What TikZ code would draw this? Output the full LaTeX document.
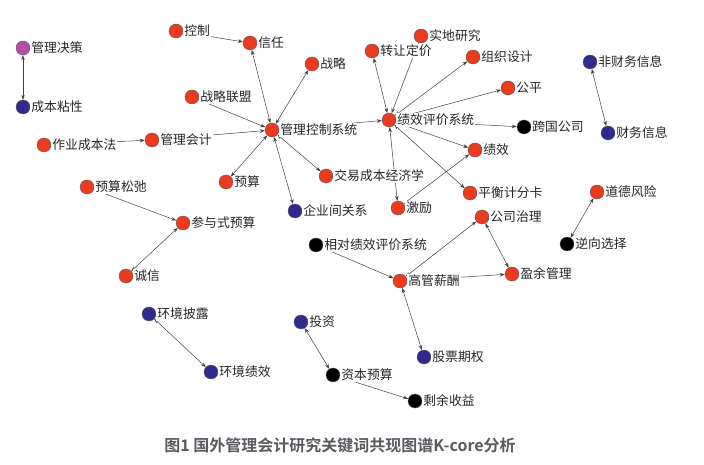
\documentclass[tikz,border=0pt]{standalone}
\usepackage{fontspec}
\newfontfamily\cjk{Noto Sans CJK SC}
\newfontfamily\cjkb{Noto Sans CJK SC Bold}
\usetikzlibrary{arrows.meta}
\pgfdeclarelayer{bg}
\pgfsetlayers{bg,main}
\definecolor{nred}{RGB}{236,58,30}
\definecolor{nblue}{RGB}{48,42,142}
\definecolor{npurple}{RGB}{184,76,168}
\definecolor{capgray}{RGB}{88,90,96}
\tikzset{
  kw/.style={circle, draw=black!65, line width=0.4pt, minimum size=14pt, inner sep=0pt,
    label={[lab]right:#1}},
  rn/.style={kw=#1, fill=nred},
  bn/.style={kw=#1, fill=nblue},
  pn/.style={kw=#1, fill=npurple},
  kn/.style={kw=#1, fill=black},
  lab/.style={font=\cjk\fontsize{12.8}{12.8}\selectfont, fill=white, inner sep=1pt, text=black!85},
  label distance=0pt,
  lk/.style={draw=black!75, line width=0.5pt},
  bi/.style={lk, {Stealth[length=5pt,width=3.6pt]}-{Stealth[length=5pt,width=3.6pt]}},
  un/.style={lk, -{Stealth[length=5pt,width=3.6pt]}},
}
\begin{document}
\begin{tikzpicture}[x=1pt,y=-1pt]
\useasboundingbox (0,0) rectangle (704,465);
% nodes
\node[pn=管理决策] (pd) at (23,48) {};
\node[bn=成本粘性] (cb) at (23,107) {};
\node[rn=控制] (kz) at (176,31) {};
\node[rn=信任] (xr) at (250,43) {};
\node[rn=战略] (zl) at (312,64) {};
\node[rn=战略联盟] (zllm) at (192,97) {};
\node[rn=管理控制系统] (mcs) at (272,130) {};
\node[rn=作业成本法] (zy) at (44,145) {};
\node[rn=管理会计] (gk) at (152,140) {};
\node[rn=预算] (ys) at (226,182) {};
\node[rn=交易成本经济学] (jy) at (326,176) {};
\node[bn=企业间关系] (qy) at (295,211) {};
\node[rn=预算松弛] (yssc) at (87,187) {};
\node[rn=参与式预算] (cy) at (183,223) {};
\node[rn=诚信] (cx) at (126,276) {};
\node[rn=实地研究] (sdyj) at (421,36) {};
\node[rn=转让定价] (zrdj) at (372,51) {};
\node[rn=组织设计] (zzsj) at (473,57) {};
\node[rn=公平] (gp) at (508,88) {};
\node[rn=绩效评价系统] (pes) at (389,120) {};
\node[kn=跨国公司] (kggs) at (524,127) {};
\node[rn=绩效] (jx) at (475,150) {};
\node[rn=平衡计分卡] (phjf) at (470,193) {};
\node[rn=激励] (jl) at (398,208) {};
\node[rn=公司治理] (gszl) at (482,217) {};
\node[bn=非财务信息] (fcw) at (590,62) {};
\node[bn=财务信息] (cw) at (608,133) {};
\node[rn=道德风险] (ddfx) at (597,192) {};
\node[kn=逆向选择] (nxxz) at (567,244) {};
\node[kn=相对绩效评价系统] (xdjx) at (316,245) {};
\node[rn=高管薪酬] (ggxc) at (400,281) {};
\node[rn=盈余管理] (yygl) at (512,274) {};
\node[bn=股票期权] (gpqq) at (424,357) {};
\node[bn=环境披露] (hjpl) at (149,314) {};
\node[bn=环境绩效] (hjjx) at (211,372) {};
\node[bn=投资] (tz) at (301,322) {};
\node[kn=资本预算] (zbys) at (333,375) {};
\node[kn=剩余收益] (syys) at (415,401) {};
\node[font=\cjkb\fontsize{16}{16}\selectfont, text=capgray] (cap) at (340,445) {图1 国外管理会计研究关键词共现图谱K-core分析};
% edges
\begin{pgfonlayer}{bg}
\draw[bi] (pd) -- (cb);
\draw[un] (kz) -- (xr);
\draw[bi] (xr) -- (mcs);
\draw[bi] (zl) -- (mcs);
\draw[bi] (zllm) -- (mcs);
\draw[un] (zy) -- (gk);
\draw[un] (gk) -- (mcs);
\draw[bi] (ys) -- (mcs);
\draw[bi] (jy) -- (mcs);
\draw[bi] (qy) -- (mcs);
\draw[un] (mcs) -- (pes);
\draw[bi] (yssc) -- (cy);
\draw[bi] (cx) -- (cy);
\draw[bi] (zrdj) -- (pes);
\draw[un] (sdyj) -- (pes);
\draw[bi] (zzsj) -- (pes);
\draw[un] (pes) -- (gp);
\draw[un] (pes) -- (kggs);
\draw[bi] (jx) -- (pes);
\draw[bi] (phjf) -- (pes);
\draw[bi] (jl) -- (pes);
\draw[un] (jl) -- (jx);
\draw[bi] (fcw) -- (cw);
\draw[bi] (ddfx) -- (nxxz);
\draw[bi] (ggxc) -- (gszl);
\draw[bi] (gszl) -- (yygl);
\draw[un] (ggxc) -- (yygl);
\draw[bi] (xdjx) -- (ggxc);
\draw[bi] (ggxc) -- (gpqq);
\draw[bi] (hjpl) -- (hjjx);
\draw[bi] (tz) -- (zbys);
\draw[bi] (zbys) -- (syys);
\end{pgfonlayer}
\end{tikzpicture}
\end{document}
